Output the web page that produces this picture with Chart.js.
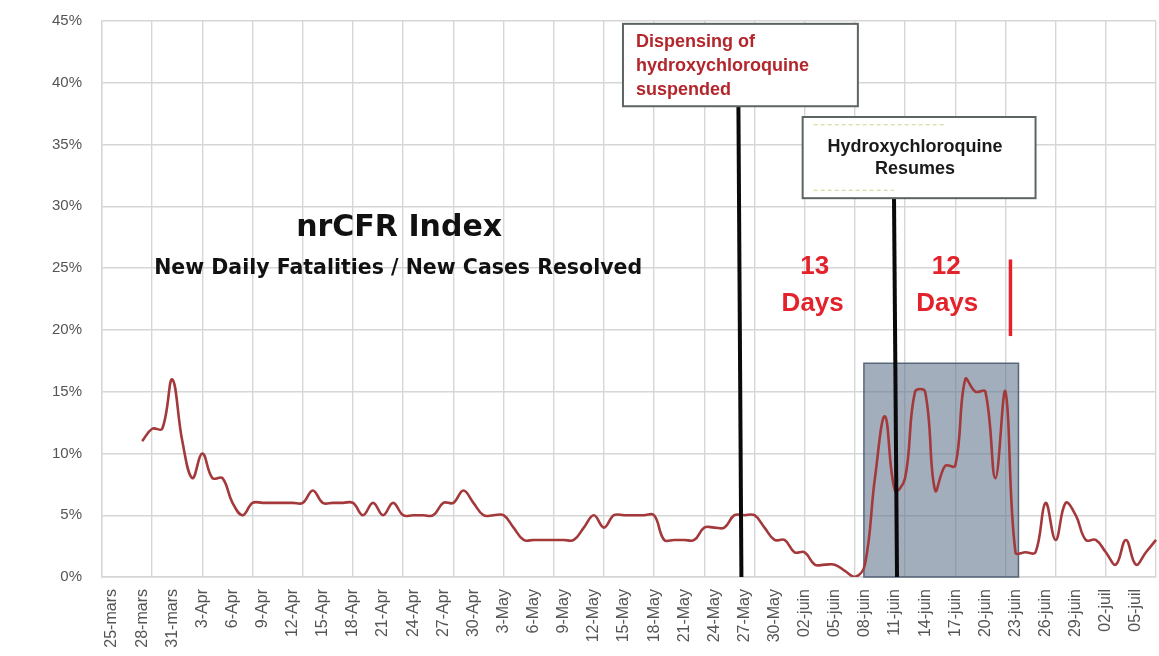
<!DOCTYPE html>
<html><head><meta charset="utf-8">
<script src="https://cdn.jsdelivr.net/npm/chart.js@4"></script>
<style>html,body{margin:0;padding:0;background:#fff}#wrap{width:1159px;height:656px;position:relative}</style>
</head><body><div id="wrap"><canvas id="c"></canvas></div>
<script>
function monthDays(name, from, to, pad) {
  const out = [];
  for (let d = from; d <= to; d++) out.push((pad && d < 10 ? '0' + d : String(d)) + '-' + name);
  return out;
}
// one category per day, 24-mars .. 07-juil
const categories = [].concat(
  monthDays('mars', 24, 31, false),
  monthDays('Apr', 1, 30, false),
  monthDays('May', 1, 31, false),
  monthDays('juin', 1, 30, true),
  monthDays('juil', 1, 7, true)
);
const tickLabels = ['25-mars','28-mars','31-mars','3-Apr','6-Apr','9-Apr','12-Apr','15-Apr','18-Apr','21-Apr',
  '24-Apr','27-Apr','30-Apr','3-May','6-May','9-May','12-May','15-May','18-May','21-May','24-May','27-May',
  '30-May','02-juin','05-juin','08-juin','11-juin','14-juin','17-juin','20-juin','23-juin','26-juin','29-juin',
  '02-juil','05-juil'];
// nrCFR index (%) per day
const nrcfrValues = [
  null, null, null, null, 11, 12, 12, 16, 11, 8,
  10, 8, 8, 6, 5, 6, 6, 6, 6, 6,
  6, 7, 6, 6, 6, 6, 5, 6, 5, 6,
  5, 5, 5, 5, 6, 6, 7, 6, 5, 5,
  5, 4, 3, 3, 3, 3, 3, 3, 4, 5,
  4, 5, 5, 5, 5, 5, 3, 3, 3, 3,
  4, 4, 4, 5, 5, 5, 4, 3, 3, 2,
  2, 1, 1, 1, 0.5, 0, 1, 8, 13, 7,
  8, 15, 15, 7, 9, 9, 16, 15, 15, 8,
  15, 2, 2, 2, 6, 3, 6, 5, 3, 3,
  2, 1, 3, 1, 2, 3
];
const yMax = 45, yStep = 5;

// annotations in chart coordinates (x = day index, y = %)
const shade = { x0: 75.9, x1: 91.3, top: 17.3 };
const eventLines = [ { xBottom: 63.7, xTop: 63.4, top: 38.1 }, { xBottom: 79.2, xTop: 78.9, top: 30.66 } ];
const box1 = { x0: 51.9, x1: 75.3, top: 44.77, bottom: 38.1, textX: 53.2,
  lines: [['Dispensing of', 42.9], ['hydroxychloroquine', 40.96], ['suspended', 39.0]] };
const box2 = { x0: 69.8, x1: 93.0, top: 37.23, bottom: 30.66, textX: 81.0,
  lines: [['Hydroxychloroquine', 34.39], ['Resumes', 32.6]] };
const titles = [
  { text: 'nrCFR Index', x: 29.6, y: 27.6, font: 'bold 30px "DejaVu Sans"', color: '#111' },
  { text: 'New Daily Fatalities / New Cases Resolved', x: 29.5, y: 24.5, font: 'bold 20.5px "DejaVu Sans"', color: '#111' },
  { text: '13', x: 71.0, y: 24.5, font: 'bold 26px "Liberation Sans"', color: '#e3222b' },
  { text: 'Days', x: 70.8, y: 21.5, font: 'bold 26px "Liberation Sans"', color: '#e3222b' },
  { text: '12', x: 84.1, y: 24.5, font: 'bold 26px "Liberation Sans"', color: '#e3222b' },
  { text: 'Days', x: 84.2, y: 21.5, font: 'bold 26px "Liberation Sans"', color: '#e3222b' }
];
const redBar = { x: 90.5, y0: 19.5, y1: 25.7 };

const tickSet = new Set(tickLabels);

const annotPlugin = {
  id: 'annot',
  beforeDatasetsDraw(chart) {
    const { ctx, scales: { x, y } } = chart;
    const l = x.getPixelForValue(shade.x0), r = x.getPixelForValue(shade.x1);
    const t = y.getPixelForValue(shade.top), b = y.getPixelForValue(0);
    ctx.save();
    ctx.fillStyle = 'rgba(95,115,140,0.58)';
    ctx.fillRect(l, t, r - l, b - t);
    ctx.strokeStyle = 'rgba(75,92,112,0.9)';
    ctx.lineWidth = 1.5;
    ctx.strokeRect(l, t, r - l, b - t);
    ctx.restore();
  },
  afterDatasetsDraw(chart) {
    const { ctx, scales: { x, y } } = chart;
    ctx.save();
    // event lines
    ctx.strokeStyle = '#0a0a0a';
    ctx.lineWidth = 4;
    eventLines.forEach(e => {
      ctx.beginPath();
      ctx.moveTo(x.getPixelForValue(e.xBottom), y.getPixelForValue(0));
      ctx.lineTo(x.getPixelForValue(e.xTop), y.getPixelForValue(e.top));
      ctx.stroke();
    });
    // boxes
    function drawBox(bx) {
      const l = x.getPixelForValue(bx.x0), r = x.getPixelForValue(bx.x1);
      const t = y.getPixelForValue(bx.top), b = y.getPixelForValue(bx.bottom);
      ctx.fillStyle = '#ffffff';
      ctx.fillRect(l, t, r - l, b - t);
      ctx.strokeStyle = '#5c6464';
      ctx.lineWidth = 2;
      ctx.strokeRect(l, t, r - l, b - t);
    }
    drawBox(box1);
    drawBox(box2);
    ctx.textBaseline = 'alphabetic';
    ctx.font = 'bold 18px "Liberation Sans"';
    ctx.fillStyle = '#b2262c';
    ctx.textAlign = 'left';
    box1.lines.forEach(([s, v]) => ctx.fillText(s, x.getPixelForValue(box1.textX), y.getPixelForValue(v)));
    ctx.fillStyle = '#1a1a1a';
    ctx.textAlign = 'center';
    box2.lines.forEach(([s, v]) => ctx.fillText(s, x.getPixelForValue(box2.textX), y.getPixelForValue(v)));
    // faint dashes inside box 2
    ctx.strokeStyle = 'rgba(170,200,90,0.7)';
    ctx.lineWidth = 1;
    ctx.setLineDash([4, 3]);
    ctx.beginPath();
    ctx.moveTo(x.getPixelForValue(70.9), y.getPixelForValue(36.6));
    ctx.lineTo(x.getPixelForValue(83.9), y.getPixelForValue(36.6));
    ctx.moveTo(x.getPixelForValue(70.9), y.getPixelForValue(31.3));
    ctx.lineTo(x.getPixelForValue(78.9), y.getPixelForValue(31.3));
    ctx.stroke();
    ctx.setLineDash([]);
    // titles
    titles.forEach(tt => {
      ctx.font = tt.font;
      ctx.fillStyle = tt.color;
      ctx.textAlign = 'center';
      ctx.fillText(tt.text, x.getPixelForValue(tt.x), y.getPixelForValue(tt.y));
    });
    // red bar
    ctx.strokeStyle = '#e3222b';
    ctx.lineWidth = 3.5;
    ctx.beginPath();
    ctx.moveTo(x.getPixelForValue(redBar.x), y.getPixelForValue(redBar.y0));
    ctx.lineTo(x.getPixelForValue(redBar.x), y.getPixelForValue(redBar.y1));
    ctx.stroke();
    ctx.restore();
  }
};

new Chart(document.getElementById('c'), {
  type: 'line',
  data: {
    labels: categories,
    datasets: [{
      data: nrcfrValues,
      borderColor: '#a3393b',
      borderWidth: 2.6,
      pointRadius: 0,
      tension: 0.4,
      fill: false,
      spanGaps: false
    }]
  },
  options: {
    responsive: true,
    maintainAspectRatio: false,
    animation: false,
    layout: { padding: { top: 21, right: 3, left: 0, bottom: 0 } },
    plugins: { legend: { display: false }, tooltip: { enabled: false } },
    scales: {
      x: {
        offset: false,
        afterFit(s) { s.height = 79; s.paddingLeft = 0; s.paddingRight = 0; },
        grid: {
          drawTicks: false,
          color: c => (c.index % 5 === 0 ? '#d6d6d6' : 'rgba(0,0,0,0)'),
          lineWidth: 1.4
        },
        border: { color: '#d6d6d6', width: 1.4 },
        ticks: {
          autoSkip: false,
          maxRotation: 90,
          minRotation: 90,
          padding: 12,
          color: '#555',
          font: { family: '"Liberation Sans"', size: 16 },
          callback(v, i) { const lab = categories[i]; return tickSet.has(lab) ? lab : ''; }
        }
      },
      y: {
        min: 0,
        max: yMax,
        afterFit(s) { s.width = 102; s.paddingTop = 0; s.paddingBottom = 0; },
        grid: { drawTicks: false, color: '#d6d6d6', lineWidth: 1.4 },
        border: { color: '#d6d6d6', width: 1.4 },
        ticks: {
          stepSize: yStep,
          padding: 20,
          color: '#555',
          font: { family: '"Liberation Sans"', size: 15 },
          callback: v => v + '%'
        }
      }
    }
  },
  plugins: [annotPlugin]
});
</script>
</body></html>
